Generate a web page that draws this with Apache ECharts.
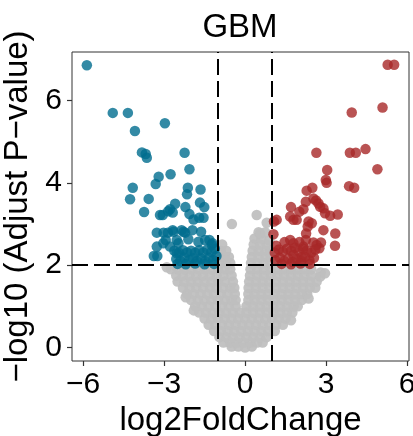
<!DOCTYPE html>
<html>
<head>
<meta charset="utf-8">
<script src="https://cdn.jsdelivr.net/npm/echarts@6/dist/echarts.min.js"></script>
<style>
html,body{margin:0;padding:0;background:#fff;}
#chart{width:413px;height:436px;}
</style>
</head>
<body>
<div id="chart"></div>
<script>
// ---------- data (log2FoldChange, -log10 adjusted P) ----------
const chartTitle = 'GBM';
const xTickValues = [-6, -3, 0, 3, 6];
const yTickValues = [0, 2, 4, 6];
const foldCutoffs = [-1, 1];
const pCutoff = 2;

// down-regulated (blue)
const downGenes = [
  [-5.86,6.86],[-4.90,5.70],[-4.34,5.70],[-4.08,5.26],[-2.97,5.45],
  [-3.82,4.74],[-3.68,4.70],[-3.64,4.61],[-2.24,4.73],[-2.06,4.33],
  [-3.20,4.15],[-2.76,4.21],[-3.31,3.97],[-4.16,3.88],[-2.12,3.88],
  [-1.65,3.84],[-4.26,3.60],[-3.57,3.61],[-3.74,3.29],[-2.15,3.72],
  [-1.67,3.52],[-1.51,3.41],[-2.21,3.41],[-2.59,3.49],[-2.78,3.36],
  [-2.85,3.31],[-2.68,3.28],[-3.05,3.22],[-3.15,3.22],[-2.06,3.24],
  [-1.91,3.11],[-1.70,3.15],[-1.54,3.15],[-3.27,2.79],[-3.02,2.79],
  [-2.86,2.79],[-2.68,2.85],[-2.35,2.85],[-1.95,2.85],[-1.63,2.81],
  [-2.22,2.79],[-2.94,2.61],[-2.47,2.53],[-2.10,2.63],[-1.73,2.57],
  [-1.32,2.61],[-1.21,2.53],[-3.27,2.45],[-2.78,2.45],[-3.38,2.22],
  [-3.25,2.22],[-2.53,2.29],[-3.03,2.53],[-2.53,2.61],[-1.48,2.61],
  [-1.23,2.49],[-2.65,2.81],[-2.28,2.81],
  [-2.62,2.35],[-2.45,2.30],[-2.30,2.36],[-2.15,2.31],[-2.00,2.35],
  [-1.85,2.30],[-1.70,2.36],[-1.55,2.31],[-1.40,2.38],[-1.25,2.32],
  [-1.12,2.40],[-2.55,2.15],[-2.40,2.10],[-2.25,2.18],[-2.08,2.12],
  [-1.92,2.17],[-1.78,2.10],[-1.62,2.16],[-1.48,2.10],[-1.33,2.18],
  [-1.18,2.12],[-1.06,2.22],[-2.50,2.03],[-2.20,2.02],[-1.85,2.04],
  [-1.50,2.02],[-1.15,2.03]
];

// up-regulated (red)
const upGenes = [
  [5.28,6.87],[5.52,6.87],[3.95,5.71],[5.09,5.83],[2.64,4.73],
  [3.88,4.73],[4.10,4.73],[4.46,4.82],[3.04,4.31],[4.90,4.33],
  [2.99,4.07],[3.02,4.00],[3.85,3.92],[4.04,3.88],[2.49,3.88],
  [2.28,3.81],[2.53,3.62],[2.63,3.57],[2.25,3.54],[2.78,3.42],
  [1.70,3.41],[2.01,3.30],[2.16,3.36],[2.96,3.26],[3.15,3.20],
  [3.43,3.23],[1.07,3.06],[1.79,3.10],[1.91,3.10],[2.47,3.02],
  [2.32,2.94],[2.26,2.77],[2.90,2.85],[3.34,2.77],[1.05,2.75],
  [1.46,2.56],[1.67,2.61],[1.79,2.53],[2.01,2.56],[2.25,2.61],
  [2.53,2.55],[2.65,2.49],[2.81,2.55],[2.75,2.41],[3.33,2.47],
  [1.15,2.47],[1.67,3.18],[2.35,3.06],[2.72,3.50],[1.17,3.10],
  [2.16,2.45],[2.10,2.20],[1.79,2.25],[2.90,3.38],
  [1.10,2.30],[1.25,2.38],[1.40,2.33],[1.55,2.40],[1.70,2.35],
  [1.85,2.42],[2.00,2.33],[2.15,2.40],[2.30,2.36],[2.45,2.30],
  [2.60,2.38],[1.12,2.12],[1.28,2.18],[1.45,2.10],[1.60,2.16],
  [1.76,2.08],[1.92,2.15],[2.08,2.10],[2.22,2.20],[2.38,2.12],
  [2.55,2.18],[1.35,2.03],[1.70,2.02],[2.05,2.04],[2.40,2.03]
];

// not significant (grey)
const nsGenes = [
  [-0.50,0.02],[-0.25,0.02],[0.00,0.00],[0.25,0.02],
  [-0.80,0.12],[-0.55,0.12],[-0.30,0.12],[-0.05,0.12],[0.20,0.12],[0.45,0.12],[0.65,0.12],
  [-0.95,0.25],[-0.70,0.25],[-0.45,0.25],[-0.20,0.25],[0.05,0.25],[0.30,0.25],[0.55,0.25],[0.80,0.25],
  [-1.15,0.40],[-0.90,0.40],[-0.65,0.40],[-0.40,0.40],[-0.15,0.40],[0.10,0.40],[0.35,0.40],[0.60,0.40],[0.85,0.40],[1.10,0.40],
  [-1.35,0.55],[-1.10,0.55],[-0.85,0.55],[-0.60,0.55],[-0.35,0.55],[-0.10,0.55],[0.15,0.55],[0.40,0.55],[0.65,0.55],[0.90,0.55],[1.15,0.55],[1.40,0.55],
  [-1.50,0.70],[-1.25,0.70],[-1.00,0.70],[-0.75,0.70],[-0.50,0.70],[-0.25,0.70],[0.00,0.70],[0.25,0.70],[0.50,0.70],[0.75,0.70],[1.00,0.70],[1.25,0.70],[1.50,0.70],
  [-1.70,0.85],[-1.45,0.85],[-1.20,0.85],[-0.95,0.85],[-0.70,0.85],[-0.45,0.85],[-0.20,0.85],[0.05,0.85],[0.30,0.85],[0.55,0.85],[0.80,0.85],[1.05,0.85],[1.30,0.85],[1.55,0.85],[1.75,0.85],
  [-1.85,1.00],[-1.60,1.00],[-1.35,1.00],[-1.10,1.00],[-0.85,1.00],[-0.60,1.00],[-0.35,1.00],[0.05,1.00],[0.30,1.00],[0.55,1.00],[0.80,1.00],[1.05,1.00],[1.30,1.00],[1.55,1.00],[1.80,1.00],[1.95,1.00],
  [-2.00,1.15],[-1.75,1.15],[-1.50,1.15],[-1.25,1.15],[-1.00,1.15],[-0.75,1.15],[-0.50,1.15],[-0.35,1.15],[0.12,1.15],[0.35,1.15],[0.60,1.15],[0.85,1.15],[1.10,1.15],[1.35,1.15],[1.60,1.15],[1.85,1.15],[2.10,1.15],
  [-2.15,1.30],[-1.90,1.30],[-1.65,1.30],[-1.40,1.30],[-1.15,1.30],[-0.90,1.30],[-0.65,1.30],[-0.38,1.30],[0.12,1.30],[0.35,1.30],[0.60,1.30],[0.85,1.30],[1.10,1.30],[1.35,1.30],[1.60,1.30],[1.85,1.30],[2.10,1.30],[2.30,1.30],
  [-2.30,1.45],[-2.05,1.45],[-1.80,1.45],[-1.55,1.45],[-1.30,1.45],[-1.05,1.45],[-0.80,1.45],[-0.55,1.45],[-0.40,1.45],[0.13,1.45],[0.40,1.45],[0.65,1.45],[0.90,1.45],[1.15,1.45],[1.40,1.45],[1.65,1.45],[1.90,1.45],[2.15,1.45],[2.40,1.45],[2.60,1.45],
  [-2.50,1.60],[-2.25,1.60],[-2.00,1.60],[-1.75,1.60],[-1.50,1.60],[-1.25,1.60],[-1.00,1.60],[-0.75,1.60],[-0.45,1.60],[0.15,1.60],[0.40,1.60],[0.65,1.60],[0.90,1.60],[1.15,1.60],[1.40,1.60],[1.65,1.60],[1.90,1.60],[2.15,1.60],[2.40,1.60],[2.65,1.60],
  [-2.55,1.75],[-2.30,1.75],[-2.05,1.75],[-1.80,1.75],[-1.55,1.75],[-1.30,1.75],[-1.05,1.75],[-0.80,1.75],[-0.50,1.75],[0.18,1.75],[0.45,1.75],[0.70,1.75],[0.95,1.75],[1.20,1.75],[1.45,1.75],[1.70,1.75],[1.95,1.75],[2.20,1.75],[2.45,1.75],[2.78,1.72],
  [-2.75,1.90],[-2.50,1.90],[-2.25,1.90],[-2.00,1.90],[-1.75,1.90],[-1.50,1.90],[-1.25,1.90],[-1.00,1.90],[-0.75,1.90],[-0.55,1.90],[0.20,1.90],[0.45,1.90],[0.70,1.90],[0.95,1.90],[1.20,1.90],[1.45,1.90],[1.70,1.90],[1.95,1.90],[2.20,1.90],[2.45,1.90],[2.80,1.82],
  [-0.95,2.05],[-0.70,2.05],[-0.55,2.05],[0.22,2.05],[0.45,2.05],[0.70,2.05],[0.95,2.05],
  [-0.95,2.20],[-0.75,2.20],[-0.60,2.20],[0.25,2.20],[0.50,2.20],[0.75,2.20],[0.95,2.20],
  [-0.90,2.35],[-0.70,2.35],[0.28,2.35],[0.50,2.35],[0.75,2.35],[0.92,2.35],
  [-0.85,2.50],[0.32,2.50],[0.55,2.50],[0.80,2.50],
  [0.35,2.65],[0.60,2.65],[0.90,2.60],
  [0.50,2.80],[0.56,2.77],[0.75,2.80],
  [-0.49,3.00],[0.43,3.22],[0.80,3.03],
  [-2.90,1.95],[2.96,1.80],[-2.20,1.22],[2.35,1.19],[-1.90,0.90],[1.70,0.66]
];

// ---------- chart ----------
const FONT = "'Liberation Sans', Arial, Helvetica, sans-serif";
const minusFmt = v => String(v).replace('-', '\u2212');

const chart = echarts.init(document.getElementById('chart'), null, {renderer: 'canvas'});
chart.setOption({
  animation: false,
  backgroundColor: '#ffffff',
  title: {
    text: chartTitle,
    left: 240,
    top: 11,
    textAlign: 'center',
    padding: 0,
    textStyle: {fontFamily: FONT, fontSize: 33, fontWeight: 'normal', color: '#000'}
  },
  grid: {
    left: 72, right: 4, top: 52, bottom: 75,
    containLabel: false,
    outerBoundsMode: 'none',
    show: true, borderColor: '#333', borderWidth: 1, backgroundColor: 'transparent'
  },
  xAxis: {
    type: 'value',
    min: -6.41, max: 6.07,
    name: 'log2FoldChange',
    nameLocation: 'middle',
    nameGap: 39,
    nameTextStyle: {fontFamily: FONT, fontSize: 33, color: '#000'},
    axisLine: {show: false, onZero: false},
    splitLine: {show: false},
    axisTick: {show: true, customValues: xTickValues, length: 5, lineStyle: {color: '#333', width: 1.2}},
    axisLabel: {customValues: xTickValues, formatter: minusFmt, fontFamily: FONT, fontSize: 30, color: '#000', margin: 9}
  },
  yAxis: {
    type: 'value',
    min: -0.33, max: 7.18,
    name: '\u2212log10 (Adjust P\u2212value)',
    nameLocation: 'middle',
    nameGap: 36,
    nameTextStyle: {fontFamily: FONT, fontSize: 33, color: '#000'},
    axisLine: {show: false, onZero: false},
    splitLine: {show: false},
    axisTick: {show: true, customValues: yTickValues, length: 5, lineStyle: {color: '#333', width: 1.2}},
    axisLabel: {customValues: yTickValues, formatter: minusFmt, fontFamily: FONT, fontSize: 30, color: '#000', margin: 10}
  },
  series: [
    {
      type: 'scatter', name: 'NS', data: nsGenes, symbolSize: 10.5, z: 2, silent: true,
      itemStyle: {color: '#BEBEBE', opacity: 0.93}
    },
    {
      type: 'scatter', name: 'Down', data: downGenes, symbolSize: 10.5, z: 3, silent: true,
      itemStyle: {color: '#006D8F', opacity: 0.8}
    },
    {
      type: 'scatter', name: 'Up', data: upGenes, symbolSize: 10.5, z: 3, silent: true,
      itemStyle: {color: '#A82828', opacity: 0.8}
    },
    {
      type: 'scatter', name: 'cutoffs', data: [], z: 5, silent: true,
      markLine: {
        silent: true, symbol: 'none', animation: false,
        label: {show: false},
        lineStyle: {color: '#000', width: 2, type: [16, 6]},
        data: [
          {xAxis: foldCutoffs[0]},
          {xAxis: foldCutoffs[1]},
          {yAxis: pCutoff}
        ]
      }
    }
  ]
});
</script>
</body>
</html>
